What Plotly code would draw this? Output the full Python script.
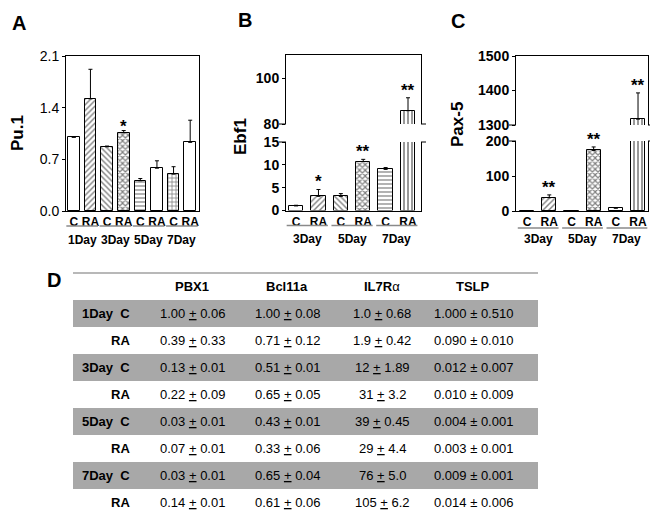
import plotly.graph_objects as go

FONT = "Liberation Sans, Arial, Helvetica, sans-serif"
W, H = 650, 511

# ---------------- data ----------------
# Panel A : Pu.1
a_days = ["1Day", "3Day", "5Day", "7Day"]
a_conds = ["C", "RA", "C", "RA", "C", "RA", "C", "RA"]
a_values = [1.00, 1.52, 0.87, 1.06, 0.41, 0.58, 0.50, 0.93]
a_errors = [0.00, 0.40, 0.01, 0.03, 0.03, 0.10, 0.10, 0.30]
a_stars = ["", "", "", "*", "", "", "", ""]
a_ticks = [0.0, 0.7, 1.4, 2.1]
a_ticklabels = ["0.0", "0.7", "1.4", "2.1"]

# Panel B : Ebf1
b_days = ["3Day", "5Day", "7Day"]
b_conds = ["C", "RA", "C", "RA", "C", "RA"]
b_values = [1.0, 3.1, 3.1, 10.7, 9.0, 85.8]
b_errors = [0.15, 1.5, 0.6, 0.5, 0.4, 5.6]
b_stars = ["", "*", "", "**", "", "**"]
b_ticks_low = [0, 5, 10, 15]
b_ticks_high = [80, 100]

# Panel C : Pax-5
c_days = ["3Day", "5Day", "7Day"]
c_conds = ["C", "RA", "C", "RA", "C", "RA"]
c_values = [0.5, 38, 0.8, 173, 8, 1317]
c_errors = [0, 8, 0, 10, 1, 76]
c_stars = ["", "**", "", "**", "", "**"]
c_ticks_low = [0, 100, 200]
c_ticks_high = [1300, 1400, 1500]

# Panel D : table
row_labels = ["1Day\u00a0\u00a0C", "RA", "3Day\u00a0\u00a0C", "RA",
              "5Day\u00a0\u00a0C", "RA", "7Day\u00a0\u00a0C", "RA"]
col_headers = ["PBX1", "Bcl11a", "IL7R<span style='font-weight:normal'>\u03b1</span>", "TSLP"]
pbx1 = ["1.00 ± 0.06", "0.39 ± 0.33", "0.13 ± 0.01", "0.22 ± 0.09",
        "0.03 ± 0.01", "0.07 ± 0.01", "0.03 ± 0.01", "0.14 ± 0.01"]
bcl11a = ["1.00 ± 0.08", "0.71 ± 0.12", "0.51 ± 0.01", "0.65 ± 0.05",
          "0.43 ± 0.01", "0.33 ± 0.06", "0.65 ± 0.04", "0.61 ± 0.06"]
il7ra = ["1.0 ± 0.68", "1.9 ± 0.42", "12 ± 1.89", "31 ± 3.2",
         "39 ± 0.45", "29 ± 4.4", "76 ± 5.0", "105 ± 6.2"]
tslp = ["1.000 ± 0.510", "0.090 ± 0.010", "0.012 ± 0.007", "0.010 ± 0.009",
        "0.004 ± 0.001", "0.003 ± 0.001", "0.009 ± 0.001", "0.014 ± 0.006"]

# ---------------- styles ----------------
a_patterns = ["", "/", "\\", "x", "-", "", "+", ""]
bc_patterns = ["", "/", "\\", "x", "-", "|"]
PAT_SIZE = {"": 6, "/": 4, "\\": 4, "x": 4, "-": 4, "+": 4, "|": 4}
PAT_SOL = {"": 0.3, "/": 0.35, "\\": 0.35, "x": 0.5, "-": 0.3, "+": 0.35, "|": 0.4}


def px_x(a, b):
    return [a / W, b / W]


def px_y(top, bottom):
    return [1 - bottom / H, 1 - top / H]


def bar_trace(vals, errs, pats, width, xa, ya):
    return go.Bar(
        x=list(range(len(vals))), y=vals, width=width,
        xaxis=xa, yaxis=ya, showlegend=False,
        marker=dict(color="white", line=dict(color="black", width=1),
                    pattern=dict(shape=pats, fgcolor="black", bgcolor="white",
                                 size=[PAT_SIZE[p] for p in pats],
                                 solidity=[PAT_SOL[p] for p in pats],
                                 fillmode="overlay")),
        error_y=dict(type="data", symmetric=False, array=errs,
                     arrayminus=[0] * len(errs), color="black",
                     thickness=1, width=2),
        cliponaxis=True,
    )


fig = go.Figure()
fig.add_trace(bar_trace(a_values, a_errors, a_patterns, 0.7, "x", "y"))
fig.add_trace(bar_trace(b_values, b_errors, bc_patterns, 0.64, "x2", "y2"))
fig.add_trace(bar_trace(b_values, b_errors, bc_patterns, 0.64, "x3", "y3"))
fig.add_trace(bar_trace(c_values, c_errors, bc_patterns, 0.64, "x4", "y4"))
fig.add_trace(bar_trace(c_values, c_errors, bc_patterns, 0.64, "x5", "y5"))

# invisible trace for table axes
fig.add_trace(go.Scatter(x=[300], y=[0], xaxis="x6", yaxis="y6", mode="markers",
                         marker=dict(opacity=0), showlegend=False, hoverinfo="skip"))

bold12 = dict(family=FONT, size=12, color="black", weight="bold")
bold14 = dict(family=FONT, size=14, color="black", weight="bold")
norm14 = dict(family=FONT, size=14, color="black")

common_y = dict(showgrid=False, zeroline=False, showline=True, linecolor="black",
                linewidth=1, mirror=True, ticks="outside", ticklen=3,
                tickcolor="black", tickwidth=1, automargin=False)
common_x = dict(showgrid=False, zeroline=False, showline=True, linecolor="black",
                linewidth=1, ticks="", automargin=False)

A_dom_x = px_x(66, 199)
B_dom_x = px_x(286, 421)
C_dom_x = px_x(516, 648)

layout = dict(
    width=W, height=H,
    margin=dict(l=0, r=0, t=0, b=0, pad=0, autoexpand=False),
    paper_bgcolor="white", plot_bgcolor="rgba(0,0,0,0)",
    font=dict(family=FONT, color="black"), bargap=0,
    xaxis=dict(domain=A_dom_x, range=[-0.47, 7.53], anchor="y", mirror=True,
               tickvals=list(range(8)), ticktext=a_conds, tickfont=bold12, **common_x),
    yaxis=dict(domain=px_y(56, 211), range=[0, 2.1], anchor="x",
               tickvals=a_ticks, ticktext=a_ticklabels, tickfont=norm14, **common_y),
    # B lower / upper
    xaxis2=dict(domain=B_dom_x, range=[-0.45, 5.58], anchor="y2",
                tickvals=list(range(6)), ticktext=b_conds, tickfont=bold12, **common_x),
    yaxis2=dict(domain=px_y(142, 210.5), range=[0, 15], anchor="x2",
                tickvals=b_ticks_low, tickfont=bold14, **common_y),
    xaxis3=dict(domain=B_dom_x, range=[-0.45, 5.58], anchor="y3", side="top",
                showticklabels=False, **common_x),
    yaxis3=dict(domain=px_y(55, 124), range=[80, 110], anchor="x3",
                tickvals=b_ticks_high, tickfont=bold14, **common_y),
    # C lower / upper
    xaxis4=dict(domain=C_dom_x, range=[-0.5, 5.45], anchor="y4",
                tickvals=list(range(6)), ticktext=c_conds, tickfont=bold12, **common_x),
    yaxis4=dict(domain=px_y(141, 211), range=[0, 200], anchor="x4",
                tickvals=c_ticks_low, tickfont=bold14, **common_y),
    xaxis5=dict(domain=C_dom_x, range=[-0.5, 5.45], anchor="y5", side="top",
                showticklabels=False, **common_x),
    yaxis5=dict(domain=px_y(56, 125), range=[1300, 1500], anchor="x5",
                tickvals=c_ticks_high, tickfont=bold14, **common_y),
    # table
    xaxis6=dict(domain=px_x(73, 538), range=[73, 538], anchor="y6", visible=False,
                automargin=False),
    yaxis6=dict(domain=[0, 1 - 272 / H], range=[(511 - 286.5) / 27, (272 - 286.5) / 27],
                anchor="x6", visible=False, automargin=False),
)
fig.update_layout(**layout)

ann = []
shapes = []

# day labels + underlines
def day_labels(days, xa, ya, ulshift, dayshift, half):
    for i, d in enumerate(days):
        ann.append(dict(x=2 * i + 0.5, y=0, xref=xa, yref=ya + " domain",
                        text=d, showarrow=False, yanchor="top", yshift=dayshift,
                        font=bold12))
        shapes.append(dict(type="line", xref=xa, yref=ya + " domain",
                           x0=2 * i - half, x1=2 * i + 1 + half,
                           ysizemode="pixel", yanchor=0, y0=ulshift, y1=ulshift,
                           line=dict(color="#8a8a8a", width=1.5)))

day_labels(a_days, "x", "y", -15, -20, 0.45)
day_labels(b_days, "x2", "y2", -15, -19, 0.42)
day_labels(c_days, "x4", "y4", -17, -19, 0.42)

# significance stars
def stars(vals, errs, marks, xa, ya, lo, hi, shift=-4):
    for i, (v, e, s) in enumerate(zip(vals, errs, marks)):
        top = v + e
        if s and lo <= top <= hi:
            ann.append(dict(x=i, y=top, xref=xa, yref=ya, text=s, showarrow=False,
                            yanchor="bottom", yshift=shift,
                            font=dict(family=FONT, size=17, color="black", weight="bold")))

stars(a_values, a_errors, a_stars, "x", "y", 0, 2.1, shift=-7)
stars(b_values, b_errors, b_stars, "x2", "y2", 0, 15)
stars(b_values, b_errors, b_stars, "x3", "y3", 80, 110)
stars(c_values, c_errors, c_stars, "x4", "y4", 0, 200)
stars(c_values, c_errors, c_stars, "x5", "y5", 1300, 1500)

# break marks
for xa, ya, yv in [("x2", "y2", 1), ("x3", "y3", 0), ("x4", "y4", 1), ("x5", "y5", 0)]:
    shapes.append(dict(type="line", xref=xa + " domain", yref=ya + " domain",
                       xsizemode="pixel", xanchor=0, x0=-7, x1=0, y0=yv, y1=yv,
                       line=dict(color="black", width=1)))
    shapes.append(dict(type="line", xref=xa + " domain", yref=ya + " domain",
                       xsizemode="pixel", xanchor=1, x0=0, x1=5, y0=yv, y1=yv,
                       line=dict(color="black", width=1)))

# panel letters and axis titles
letter_font = dict(family=FONT, size=20, color="black", weight="bold")
for t, x, y in [("A", 19, 23), ("B", 245, 20), ("C", 458, 21), ("D", 54, 280)]:
    ann.append(dict(x=x / W, y=1 - y / H, xref="paper", yref="paper", text=t,
                    showarrow=False, xanchor="center", yanchor="middle", font=letter_font))
title_font = dict(family=FONT, size=17, color="black", weight="bold")
for t, x, y in [("Pu.1", 18, 133), ("Ebf1", 241, 137), ("Pax-5", 458, 125)]:
    ann.append(dict(x=x / W, y=1 - y / H, xref="paper", yref="paper", text=t,
                    textangle=-90, showarrow=False, xanchor="center",
                    yanchor="middle", font=title_font))

# table
shapes.append(dict(type="line", xref="x6 domain", yref="y6", x0=0, x1=1,
                   y0=-0.5, y1=-0.5, line=dict(color="#a0a0a0", width=1.5)))
for k in range(len(row_labels)):
    if k % 2 == 0:
        shapes.append(dict(type="rect", xref="x6 domain", yref="y6", x0=0, x1=1,
                           y0=k + 0.5, y1=k + 1.5, fillcolor="#a8a8a8",
                           line=dict(width=0), layer="below"))

col_x = [192, 287, 382, 473]
label_x = 132
cell_font = dict(family=FONT, size=13, color="black")
head_font = dict(family=FONT, size=13, color="black", weight="bold")
for cx, h in zip(col_x, col_headers):
    ann.append(dict(x=cx, y=0, xref="x6", yref="y6", text=h, showarrow=False,
                    xanchor="center", yanchor="middle", font=head_font))
columns = [pbx1, bcl11a, il7ra, tslp]
for j, (cx, col) in enumerate(zip(col_x, columns)):
    for k, s in enumerate(col):
        txt = s.replace("±", "<u>+</u>") if j < 3 else s
        ann.append(dict(x=cx, y=k + 1, xref="x6", yref="y6", text=txt,
                        showarrow=False, xanchor="center", yanchor="middle",
                        font=cell_font))
for k, lab in enumerate(row_labels):
    ann.append(dict(x=label_x, y=k + 1, xref="x6", yref="y6", text=lab,
                    showarrow=False, xanchor="right", yanchor="middle", font=head_font))

fig.update_layout(annotations=ann, shapes=shapes)
fig.write_html("out.html", config={"displayModeBar": False},
               post_script="document.body.style.margin='0';document.body.style.padding='0';")
